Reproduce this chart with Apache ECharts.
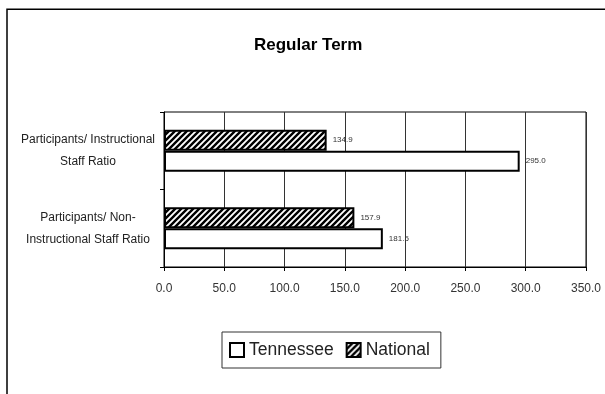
<!DOCTYPE html>
<html>
<head>
<meta charset="utf-8">
<script src="https://cdn.jsdelivr.net/npm/echarts@6/dist/echarts.min.js"></script>
<style>
html,body{margin:0;padding:0;background:#fff;}
#chart{width:605px;height:394px;}
</style>
</head>
<body>
<div id="chart"></div>
<script>
// ---- data ----
const categories = ["Participants/ Non-\nInstructional Staff Ratio", "Participants/ Instructional\nStaff Ratio"];
const legendNames = ["Tennessee", "National"];
const tennesseeValues = [181.5, 295.0];
const nationalValues = [157.9, 134.9];
const xTickMin = 0, xTickMax = 350, xTickStep = 50;
const titleText = "Regular Term";

// hatch pattern
function makeHatch() {
  const c = document.createElement('canvas');
  c.width = 6; c.height = 6;
  const g = c.getContext('2d');
  g.fillStyle = '#fff';
  g.fillRect(0, 0, 6, 6);
  g.strokeStyle = '#000';
  g.lineWidth = 2.4;
  g.beginPath();
  g.moveTo(-1, 7); g.lineTo(7, -1);
  g.moveTo(-4, 4); g.lineTo(4, -4);
  g.moveTo(2, 10); g.lineTo(10, 2);
  g.stroke();
  return c;
}
const hatch = { image: makeHatch(), repeat: 'repeat' };

const chart = echarts.init(document.getElementById('chart'), null, { renderer: 'canvas' });
const FONT = 'Liberation Sans, Arial, sans-serif';
const labelStyle = { show: true, position: 'right', distance: 6, fontFamily: FONT, fontSize: 8, color: '#333', formatter: p => p.value.toFixed(1) };
chart.setOption({
  animation: false,
  backgroundColor: '#fff',
  title: {
    text: titleText,
    left: 254, top: 37, padding: 0,
    textStyle: { fontFamily: FONT, fontSize: 17, fontWeight: 'bold', color: '#000' }
  },
  legend: {
    data: legendNames.map(n => ({ name: n, icon: 'rect', itemStyle: { borderWidth: 2 } })),
    left: 222, top: 332,
    orient: 'horizontal',
    padding: [9, 11, 9, 7],
    itemWidth: 14, itemHeight: 14,
    itemGap: 12,
    borderColor: '#333', borderWidth: 1,
    textStyle: { fontFamily: FONT, fontSize: 17.5, color: '#222' }
  },
  grid: {
    left: 164, right: 19, top: 112, bottom: 127,
    show: true, borderColor: '#000', borderWidth: 1, backgroundColor: 'transparent'
  },
  xAxis: {
    type: 'value', min: xTickMin, max: xTickMax, interval: xTickStep,
    axisLine: { show: true, lineStyle: { color: '#000', width: 1 } },
    axisTick: { show: true, length: 4, lineStyle: { color: '#000' } },
    splitLine: { show: true, lineStyle: { color: '#333', width: 1 } },
    axisLabel: {
      margin: 16, fontFamily: FONT, fontSize: 12, color: '#333',
      formatter: v => v.toFixed(1)
    }
  },
  yAxis: {
    type: 'category', data: categories,
    axisLine: { show: true, lineStyle: { color: '#000', width: 1 } },
    axisTick: { show: true, length: 4, alignWithLabel: false, lineStyle: { color: '#000' } },
    axisLabel: {
      margin: 76, align: 'center', fontFamily: FONT, fontSize: 12, lineHeight: 22, color: '#222'
    }
  },
  series: [
    {
      name: legendNames[1], type: 'bar', data: nationalValues,
      barWidth: 21, barGap: '0%',
      itemStyle: { color: hatch, borderColor: '#000', borderWidth: 2 },
      label: labelStyle
    },
    {
      name: legendNames[0], type: 'bar', data: tennesseeValues,
      barWidth: 21, barGap: '0%',
      itemStyle: { color: '#fff', borderColor: '#000', borderWidth: 2 },
      label: labelStyle
    }
  ],
  graphic: [
    { type: 'rect', silent: true, z: 100,
      shape: { x: 7, y: 9.25, width: 700, height: 500 },
      style: { fill: 'none', stroke: '#000', lineWidth: 1.5 } }
  ]
});
</script>
</body>
</html>
